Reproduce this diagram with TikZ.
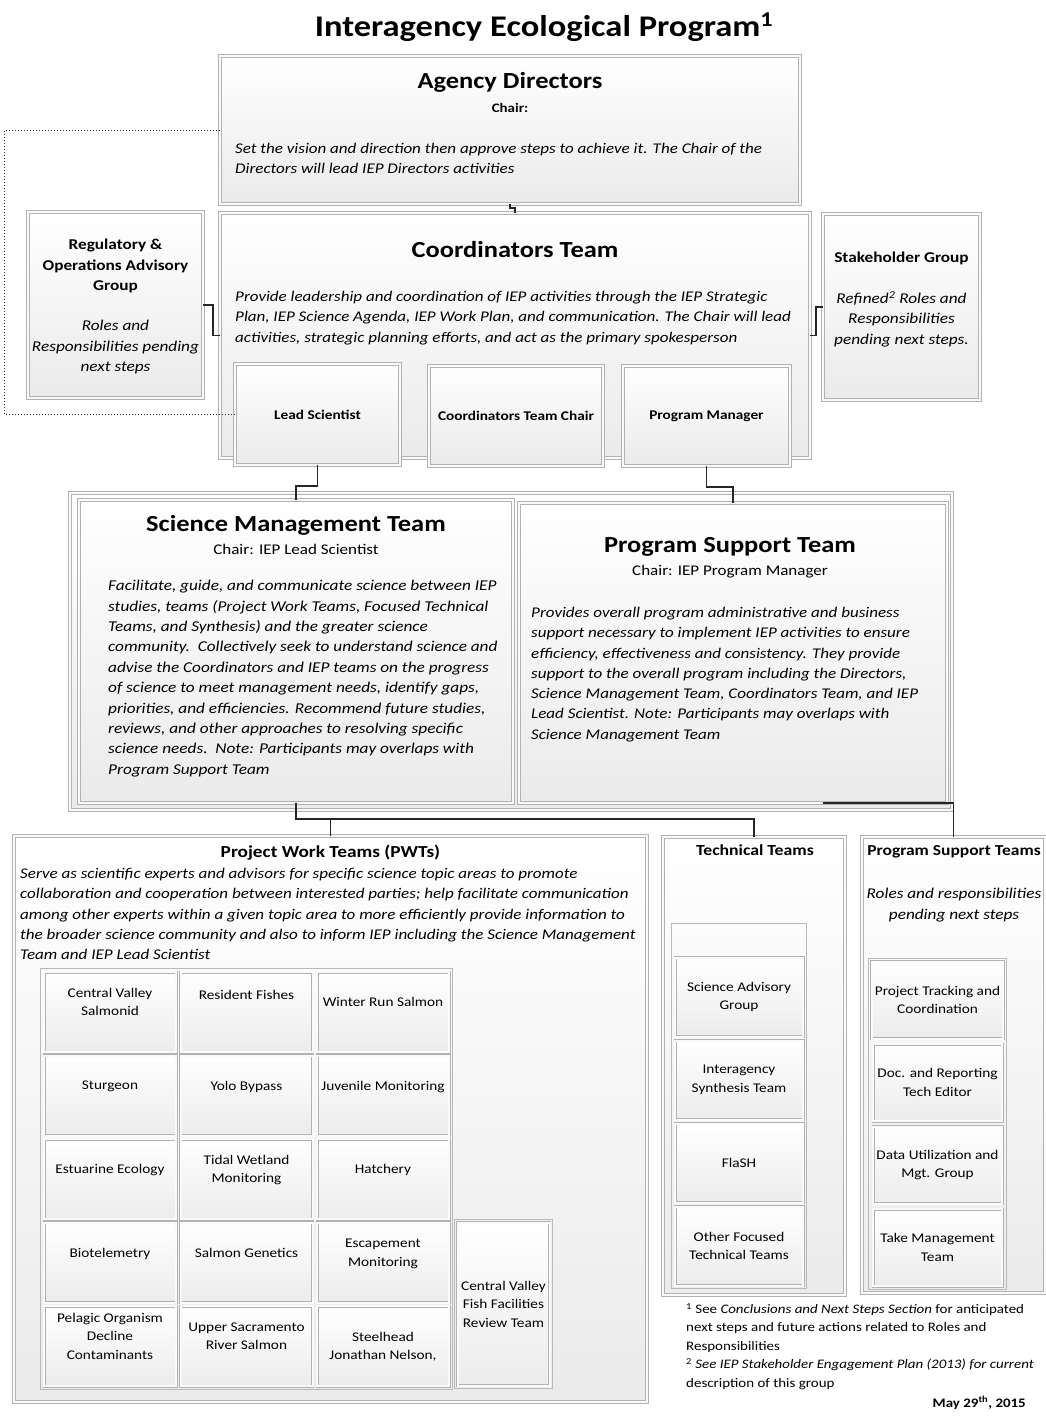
\documentclass[tikz,border=0pt]{standalone}
\usepackage{fontspec}
\setmainfont{Carlito}[FakeStretch=1.15]
\usepackage{tikz}
\usetikzlibrary{calc}
\usetikzlibrary{positioning}
\usetikzlibrary{fit}

\begin{document}
\begin{tikzpicture}[x=1pt,y=-1pt,
      box style/.style={rectangle,draw=gray!60,line width=0.5pt,double=gray!4,
        double distance=2.6pt,top color=white,bottom color=gray!16,inner sep=0pt},
      cell style/.style={rectangle,draw=gray!60,line width=0.5pt,double=gray!4,
        double distance=2pt,top color=white,bottom color=gray!15,align=center,
        font=\fontsize{13.3}{18.5}\selectfont},
      pwt style/.style={cell style,minimum width=132pt,minimum height=80pt,text depth=20pt},
      tech style/.style={cell style,minimum width=128pt,minimum height=79pt},
      supp style/.style={cell style,minimum width=129pt,minimum height=77pt},
      group style/.style={rectangle,draw=gray!55,line width=0.6pt,inner sep=3pt},
      head style/.style={anchor=base,inner sep=0pt,font=\bfseries\fontsize{23}{27}\selectfont},
      sub style/.style={anchor=base,inner sep=0pt,font=\fontsize{14.8}{18}\selectfont},
      body style/.style={anchor=north west,align=left,inner sep=0pt,
        font=\itshape\fontsize{14.8}{20.5}\selectfont},
      small head style/.style={anchor=north,align=center,inner sep=0pt,
        font=\bfseries\fontsize{15}{20.5}\selectfont},
      line style/.style={draw=black!85,line width=1.6pt}
      ]

      \useasboundingbox (0,0) rectangle (1046,1416);

      \node[anchor=base,inner sep=0pt,font=\bfseries\fontsize{30}{36}\selectfont] (title)
        at (544,36) {Interagency Ecological Program\textsuperscript{1}};

      % directors and coordinators
      \node[box style,minimum width=580pt,minimum height=148pt] (ad) at (510,130) {};
      \node[box style,minimum width=590pt,minimum height=245pt] (ct) at (515,335.5) {};
      \node[box style,minimum width=175pt,minimum height=186pt] (reg) at (115.5,305) {};
      \node[box style,minimum width=157pt,minimum height=186pt] (sh) at (901.5,307) {};
      \node[box style,minimum width=165pt,minimum height=101pt,
        font=\bfseries\fontsize{13.3}{16}\selectfont] (ls) at (317.5,414.5) {Lead Scientist};
      \node[box style,minimum width=174pt,minimum height=100pt,
        font=\bfseries\fontsize{13.3}{16}\selectfont] (ctc) at (516,416) {Coordinators Team Chair};
      \node[box style,minimum width=167pt,minimum height=100pt,
        font=\bfseries\fontsize{13.3}{16}\selectfont] (pm) at (706.5,416) {Program Manager};

      \node[head style] (adtitle) at (510,88) {Agency Directors};
      \node[head style,font=\bfseries\fontsize{13}{16}\selectfont] (adchair) at (510,112) {Chair:};
      \node[body style] (adtext) at (235,143) {Set the vision and direction then approve steps to achieve it. The Chair of the\\
        Directors will lead IEP Directors activities};

      \node[head style] (cttitle) at (515,257) {Coordinators Team};
      \node[body style] (cttext) at (235,291) {Provide leadership and coordination of IEP activities through the IEP Strategic\\
        Plan, IEP Science Agenda, IEP Work Plan, and communication. The Chair will lead\\
        activities, strategic planning efforts, and act as the primary spokesperson};

      \node[small head style] (regtitle) at (115.5,239) {Regulatory \&\\Operations Advisory\\Group};
      \node[small head style,font=\itshape\fontsize{15}{20.5}\selectfont] (regtext)
        at (115.5,320) {Roles and\\Responsibilities pending\\next steps};

      \node[small head style] (shtitle) at (901.5,252) {Stakeholder Group};
      \node[small head style,font=\itshape\fontsize{15}{20.5}\selectfont] (shtext)
        at (901.5,291) {Refined\textsuperscript{2} Roles and\\Responsibilities\\pending next steps.};

      % management teams
      \node[box style,minimum width=882pt,minimum height=317pt] (mgmt) at (511,651.5) {};
      \node[box style,minimum width=434pt,minimum height=303pt] (smt) at (296,651.5) {};
      \node[box style,minimum width=428pt,minimum height=300pt] (pst) at (733,653) {};

      \node[head style] (smttitle) at (296,531) {Science Management Team};
      \node[sub style] (smtchair) at (296,554) {Chair: IEP Lead Scientist};
      \node[body style,font=\itshape\fontsize{15}{20.4}\selectfont] (smttext) at (108,580)
        {Facilitate, guide, and communicate science between IEP\\
        studies, teams (Project Work Teams, Focused Technical\\
        Teams, and Synthesis) and the greater science\\
        community.\ \ Collectively seek to understand science and\\
        advise the Coordinators and IEP teams on the progress\\
        of science to meet management needs, identify gaps,\\
        priorities, and efficiencies. Recommend future studies,\\
        reviews, and other approaches to resolving specific\\
        science needs.\ \ Note: Participants may overlaps with\\
        Program Support Team};

      \node[head style] (psttitle) at (730,552) {Program Support Team};
      \node[sub style] (pstchair) at (730,575) {Chair: IEP Program Manager};
      \node[body style,font=\itshape\fontsize{14.8}{20.3}\selectfont] (psttext) at (531,607)
        {Provides overall program administrative and business\\
        support necessary to implement IEP activities to ensure\\
        efficiency, effectiveness and consistency. They provide\\
        support to the overall program including the Directors,\\
        Science Management Team, Coordinators Team, and IEP\\
        Lead Scientist. Note: Participants may overlaps with\\
        Science Management Team};

      % working level
      \node[box style,minimum width=633pt,minimum height=566pt] (pwt) at (330.5,1119) {};
      \node[box style,minimum width=182pt,minimum height=458pt] (tech) at (754,1066) {};
      \node[box style,minimum width=183pt,minimum height=456pt] (psg) at (953.5,1065) {};

      \node[head style,font=\bfseries\fontsize{16.8}{20}\selectfont] (pwttitle) at (330.5,857) {Project Work Teams (PWTs)};
      \node[body style,font=\itshape\fontsize{14.8}{20.3}\selectfont] (pwttext) at (20,868)
        {Serve as scientific experts and advisors for specific science topic areas to promote\\
        collaboration and cooperation between interested parties; help facilitate communication\\
        among other experts within a given topic area to more efficiently provide information to\\
        the broader science community and also to inform IEP including the Science Management\\
        Team and IEP Lead Scientist};

      \node[pwt style] (c11) at (110,1012) {Central Valley\\Salmonid};
      \node[pwt style,right=4pt of c11,text depth=34pt] (c12) {Resident Fishes};
      \node[pwt style,right=4pt of c12] (c13) {Winter Run Salmon};
      \node[pwt style,below=3pt of c11] (c21) {Sturgeon};
      \node[pwt style,right=4pt of c21] (c22) {Yolo Bypass};
      \node[pwt style,right=4pt of c22] (c23) {Juvenile Monitoring};
      \node[pwt style,below=3pt of c21] (c31) {Estuarine Ecology};
      \node[pwt style,right=4pt of c31] (c32) {Tidal Wetland\\Monitoring};
      \node[pwt style,right=4pt of c32] (c33) {Hatchery};
      \node[pwt style,below=3pt of c31] (c41) {Biotelemetry};
      \node[pwt style,right=4pt of c41] (c42) {Salmon Genetics};
      \node[pwt style,right=4pt of c42] (c43) {Escapement\\Monitoring};
      \node[pwt style,below=3pt of c41] (c51) {Pelagic Organism\\Decline\\Contaminants};
      \node[pwt style,right=4pt of c51] (c52) {Upper Sacramento\\River Salmon};
      \node[pwt style,right=4pt of c52,text depth=0pt] (c53) {Steelhead\\Jonathan Nelson,};
      \node[pwt style,minimum width=92pt,minimum height=163pt,text depth=0pt,
        right=8pt of c43.north east,anchor=north west] (c4) {Central Valley\\Fish Facilities\\Review Team};
      \node[group style,fit=(c11)(c53)] (pwtgrid) {};
      \node[group style,fit=(c4)] (pwtside) {};

      \node[head style,font=\bfseries\fontsize{15.4}{20}\selectfont] (techtitle) at (755,855) {Technical Teams};
      \node[tech style] (t1) at (739,997) {Science Advisory\\Group};
      \node[tech style,below=3.5pt of t1] (t2) {Interagency\\Synthesis Team};
      \node[tech style,below=3.5pt of t2] (t3) {FlaSH};
      \node[tech style,below=3.5pt of t3] (t4) {Other Focused\\Technical Teams};
      \coordinate (techtop) at (739,926);
      \node[group style,fit=(techtop)(t1)(t4)] (techgrid) {};

      \node[head style,font=\bfseries\fontsize{15.2}{20}\selectfont] (psgtitle) at (954,855) {Program Support Teams};
      \node[small head style,font=\itshape\fontsize{15}{20.5}\selectfont] (psgtext)
        at (954,888) {Roles and responsibilities\\pending next steps};
      \node[supp style] (p1) at (937.5,1000) {Project Tracking and\\Coordination};
      \node[supp style,below=5pt of p1] (p2) {Doc. and Reporting\\Tech Editor};
      \node[supp style,below=5pt of p2] (p3) {Data Utilization and\\Mgt. Group};
      \node[supp style,below=5pt of p3] (p4) {Take Management\\Team};
      \node[group style,fit=(p1)(p4)] (psggrid) {};

      % notes
      \node[body style,font=\fontsize{13}{18.5}\selectfont] (notes) at (686,1303)
        {\textsuperscript{1} See \textit{Conclusions and Next Steps Section} for anticipated\\
        next steps and future actions related to Roles and\\
        Responsibilities\\
        \textsuperscript{2} \textit{See IEP Stakeholder Engagement Plan (2013) for current}\\
        description of this group};
      \node[anchor=base east,inner sep=0pt,font=\bfseries\fontsize{13}{16}\selectfont] (date)
        at (1026,1407) {May 29\textsuperscript{th}, 2015};

      % connectors
      \draw[line style] (ad.south) -- ++(0,4) -| (ct.north);
      \draw[line style] (reg.east) -- ++(10,0) |- (ct.west);
      \draw[line style] (ct.east) -- ++(6,0) |- (sh.west);
      \draw[line style,line width=1pt,dotted] (ad.west) -- ++(-215,0) |- (ls.west);
      \draw[line style] (ls.south) -- ++(0,21) -| (smt.north);
      \draw[line style] (pm.south) -- ++(0,21) -| (pst.north);
      \draw[line style] (smt.south) -- ++(0,16) coordinate (bus) -| (tech.north);
      \draw[line style] (bus -| pwt.north) -- (pwt.north);
      \draw[line style] ([xshift=90pt]pst.south) -| (psg.north);

    \end{tikzpicture}
\end{document}
